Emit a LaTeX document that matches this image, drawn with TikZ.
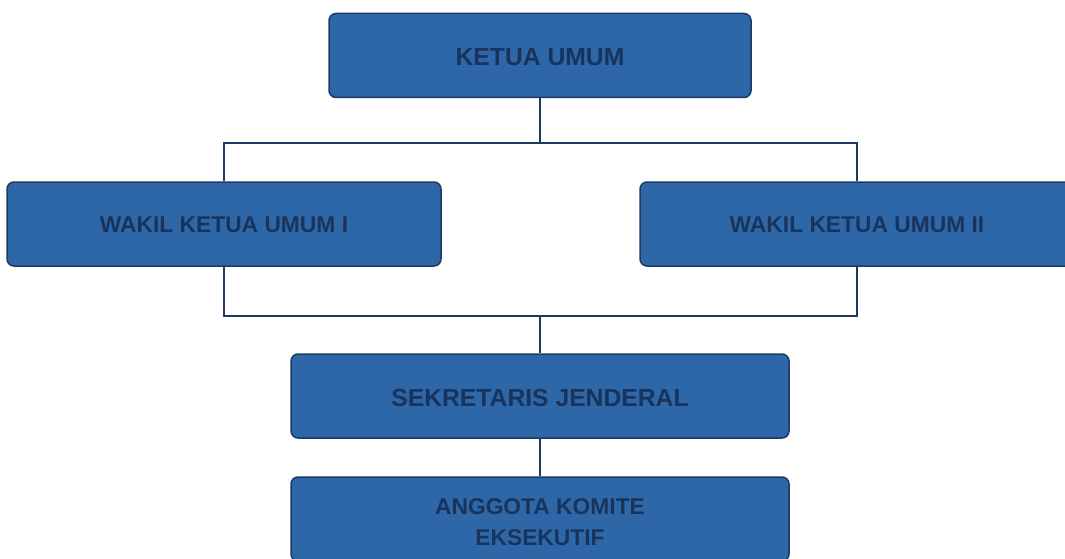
\documentclass[tikz,border=0pt]{standalone}
\usepackage{fontspec}
\setmainfont{Liberation Sans}
\definecolor{boxfill}{HTML}{2E67A8}
\definecolor{boxline}{HTML}{1E3A62}
\definecolor{boxtext}{HTML}{19345C}
\newcommand{\dn}[2]{\raisebox{-#1}[\height][\depth]{#2}}
\begin{document}
\begin{tikzpicture}[x=1pt,y=-1pt,
  orgbox/.style={draw=boxline, line width=1.5pt, fill=boxfill, rounded corners=7pt,
    minimum height=84pt, inner sep=0pt, align=center,
    font=\fontsize{24.7}{30.5}\selectfont\bfseries, text=boxtext},
  smalltext/.style={font=\fontsize{22.8}{30.5}\selectfont\bfseries},
  link/.style={draw=boxline, line width=2.5pt}]
\useasboundingbox (0,0) rectangle (1065,559);
\node[orgbox, minimum width=422pt] (ketua) at (540,55.5) {\dn{1.5pt}{KETUA UMUM}};
\node[orgbox, smalltext, minimum width=434pt] (wk1) at (224,224) {\dn{1pt}{WAKIL KETUA UMUM I}};
\node[orgbox, smalltext, minimum width=434pt] (wk2) at (857,224) {\dn{1pt}{WAKIL KETUA UMUM II}};
\node[orgbox, minimum width=498pt] (sek) at (540,396) {\dn{1.5pt}{SEKRETARIS JENDERAL}};
\node[orgbox, smalltext, minimum width=498pt] (ang) at (540,519) {\dn{5pt}{\begin{tabular}{@{}c@{}}ANGGOTA KOMITE\\EKSEKUTIF\end{tabular}}};
\coordinate (j1) at (540,143);
\coordinate (j2) at (540,316);
\draw[link] (ketua.south) -- (j1);
\draw[link] (wk1.north) |- (j1) -| (wk2.north);
\draw[link] (wk1.south) |- (j2) -| (wk2.south);
\draw[link] (j2) -- (sek.north);
\draw[link] (sek.south) -- (ang.north);
\end{tikzpicture}
\end{document}
